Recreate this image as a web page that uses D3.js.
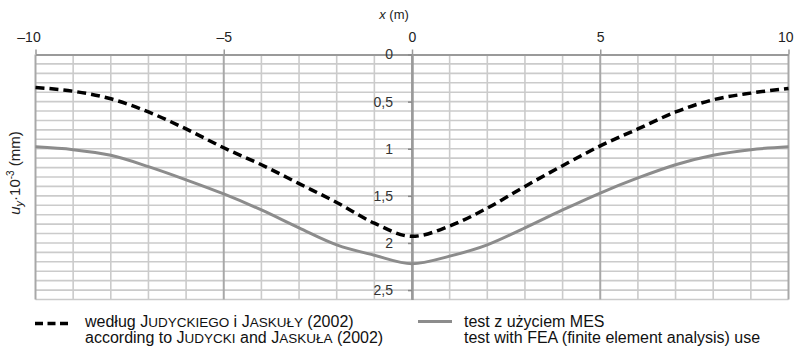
<!DOCTYPE html>
<html>
<head>
<meta charset="utf-8">
<script src="https://cdn.jsdelivr.net/npm/d3@7"></script>
<style>
  body { margin: 0; background: #fff; }
  svg { display: block; font-family: "Liberation Sans", Arial, sans-serif; }
</style>
</head>
<body>
<svg id="chart" width="794" height="349"></svg>
<script>
// distance along the cross-section (m)
var xPositions = [-10, -9, -8, -7, -6, -5, -4, -3, -2, -1, 0, 1, 2, 3, 4, 5, 6, 7, 8, 9, 10];

// according to Judycki and Jaskuła (2002)
var judyckiValues = [0.35, 0.39, 0.47, 0.61, 0.79, 0.99, 1.17, 1.37, 1.57, 1.79, 1.93,
                     1.82, 1.63, 1.40, 1.18, 0.97, 0.79, 0.61, 0.48, 0.41, 0.36];

// FEA test
var feaValues = [0.98, 1.01, 1.07, 1.19, 1.33, 1.48, 1.65, 1.84, 2.02, 2.13, 2.22,
                 2.14, 2.02, 1.84, 1.65, 1.47, 1.31, 1.17, 1.07, 1.01, 0.98];

var xTicks = [-10, -5, 0, 5, 10];
var yTicks = [0, 0.5, 1, 1.5, 2, 2.5];

var svg = d3.select('#chart');

var x = d3.scaleLinear().domain([-10, 10]).range([35.5, 788.5]);
var y = d3.scaleLinear().domain([0, 2.6]).range([54.5, 299.5]);

var plLocale = d3.formatLocale({ decimal: ',', thousands: ' ', grouping: [3], currency: ['', ''] });
var yFormat = function (d) { return plLocale.format('~g')(d); };
var xFormat = function (d) { return d < 0 ? '\u2013' + Math.abs(d) : String(d); };

/**
 * Grid
 */
var grid = svg.append('g').attr('class', 'grid');

var hLines = d3.range(1, 27).map(function (i) { return i / 10; });
grid.selectAll('line.h')
  .data(hLines)
  .enter()
  .append('line')
  .attr('class', 'h')
  .attr('x1', x(-10)).attr('x2', x(10))
  .attr('y1', function (d) { return y(d); })
  .attr('y2', function (d) { return y(d); })
  .attr('stroke', '#cbcbcb')
  .attr('stroke-width', 1.6);

var vLines = d3.range(-10, 11);
grid.selectAll('line.v')
  .data(vLines)
  .enter()
  .append('line')
  .attr('class', 'v')
  .attr('x1', function (d) { return x(d); })
  .attr('x2', function (d) { return x(d); })
  .attr('y1', y(0)).attr('y2', y(2.6))
  .attr('stroke', function (d) { return d % 5 === 0 ? '#a8a8a8' : '#cbcbcb'; })
  .attr('stroke-width', function (d) { return d % 5 === 0 ? 2 : 1.6; });

/**
 * Axes
 */
var xAxis = svg.append('g')
  .attr('transform', 'translate(0,' + y(0) + ')')
  .call(d3.axisTop(x).tickValues(xTicks).tickFormat(xFormat).tickSize(5).tickSizeOuter(0).tickPadding(8));

xAxis.select('.domain').attr('stroke', '#9a9a9a').attr('stroke-width', 2);
xAxis.selectAll('.tick line').attr('stroke', '#9a9a9a').attr('stroke-width', 1.5);
xAxis.selectAll('text').style('font-size', '14px').attr('fill', '#222');
// end labels sit slightly inside the frame
xAxis.selectAll('.tick text')
  .filter(function (d) { return d === -10; })
  .attr('dx', -7);
xAxis.selectAll('.tick text')
  .filter(function (d) { return d === 10; })
  .attr('text-anchor', 'end')
  .attr('dx', 4.5);

var yAxis = svg.append('g')
  .attr('transform', 'translate(' + x(0) + ',0)')
  .call(d3.axisLeft(y).tickValues(yTicks).tickFormat(yFormat).tickSize(4).tickSizeOuter(0).tickPadding(15));

yAxis.select('.domain').attr('stroke', '#9a9a9a').attr('stroke-width', 2.5);
yAxis.selectAll('.tick line').attr('stroke', '#888').attr('stroke-width', 1.5);
yAxis.selectAll('text').style('font-size', '14px').attr('fill', '#333');

// axis titles
var xTitle = svg.append('text')
  .attr('x', 394)
  .attr('y', 19)
  .attr('text-anchor', 'middle')
  .style('font-size', '13px')
  .attr('fill', '#222');
xTitle.append('tspan').style('font-style', 'italic').text('x');
xTitle.append('tspan').text(' (m)');

var yTitle = svg.append('text')
  .attr('transform', 'translate(20,173) rotate(-90)')
  .attr('text-anchor', 'middle')
  .style('font-size', '15px')
  .attr('fill', '#222');
yTitle.append('tspan').style('font-style', 'italic').text('u');
yTitle.append('tspan').style('font-style', 'italic').style('font-size', '11px').attr('dy', 3).text('y');
yTitle.append('tspan').attr('dy', -3).text('\u00b710');
yTitle.append('tspan').style('font-size', '10px').attr('dy', -6).text('-3');
yTitle.append('tspan').attr('dy', 6).text(' (mm)');

/**
 * Series
 */
var line = d3.line()
  .x(function (d) { return x(d[0]); })
  .y(function (d) { return y(d[1]); })
  .curve(d3.curveMonotoneX);

svg.append('path')
  .datum(d3.zip(xPositions, feaValues))
  .attr('d', line)
  .attr('fill', 'none')
  .attr('stroke', '#8c8c8c')
  .attr('stroke-width', 3);

svg.append('path')
  .datum(d3.zip(xPositions, judyckiValues))
  .attr('d', line)
  .attr('fill', 'none')
  .attr('stroke', '#000')
  .attr('stroke-width', 3.5)
  .attr('stroke-dasharray', '9,5');

/**
 * Legend
 */
var legend = svg.append('g').attr('class', 'legend').style('font-size', '16px').attr('fill', '#111');

// names are set in small capitals: capital initial + smaller capitals
function smallCaps(text, initial, rest) {
  text.append('tspan').text(initial);
  text.append('tspan').style('font-size', '13.5px').text(rest);
}

legend.append('line')
  .attr('x1', 35).attr('x2', 68).attr('y1', 323.5).attr('y2', 323.5)
  .attr('stroke', '#000').attr('stroke-width', 3.5).attr('stroke-dasharray', '8,4.5');

var l1 = legend.append('text').attr('x', 85).attr('y', 327);
l1.append('tspan').text('według ');
smallCaps(l1, 'J', 'UDYCKIEGO');
l1.append('tspan').text(' i ');
smallCaps(l1, 'J', 'ASKUŁY');
l1.append('tspan').text(' (2002)');

var l2 = legend.append('text').attr('x', 85).attr('y', 343);
l2.append('tspan').text('according to ');
smallCaps(l2, 'J', 'UDYCKI');
l2.append('tspan').text(' and ');
smallCaps(l2, 'J', 'ASKUŁA');
l2.append('tspan').text(' (2002)');

legend.append('line')
  .attr('x1', 418).attr('x2', 452).attr('y1', 321.5).attr('y2', 321.5)
  .attr('stroke', '#8c8c8c').attr('stroke-width', 3);

legend.append('text').attr('x', 464).attr('y', 327).text('test z użyciem MES');
legend.append('text').attr('x', 464).attr('y', 343).text('test with FEA (finite element analysis) use');
</script>
</body>
</html>
